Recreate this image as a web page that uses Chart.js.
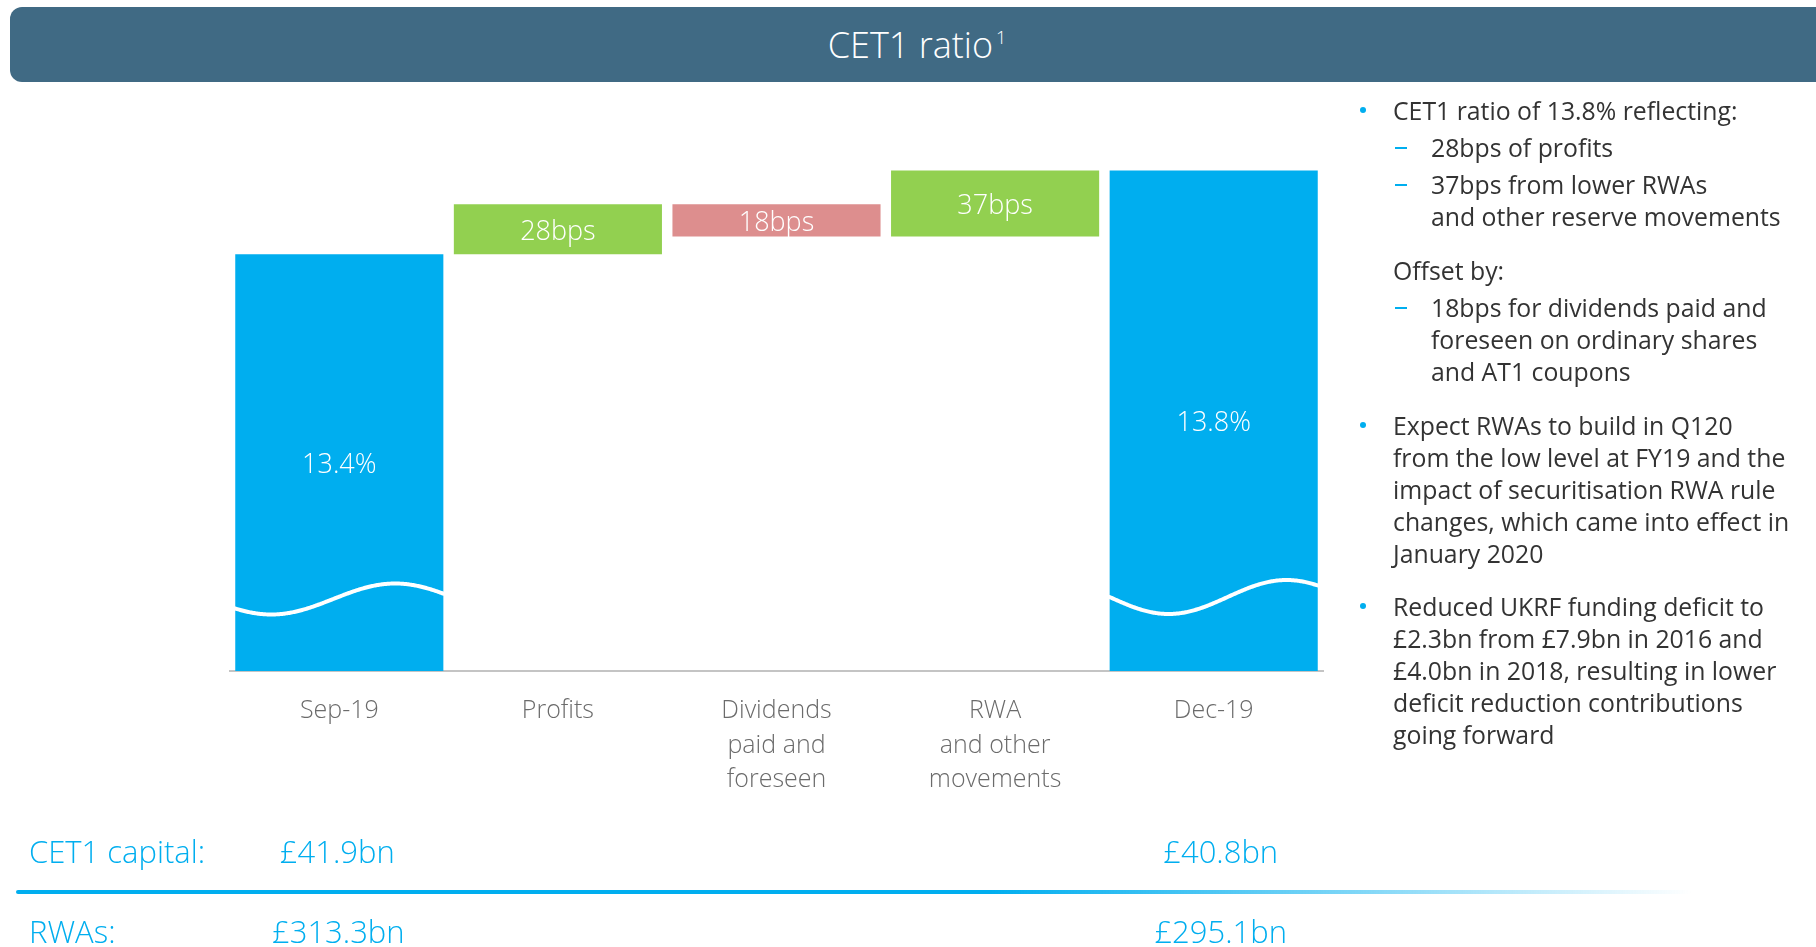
<!DOCTYPE html>
<html>
<head>
<meta charset="utf-8">
<script src="https://cdn.jsdelivr.net/npm/chart.js@4.4.1/dist/chart.umd.min.js"></script>
<style>
  html, body { margin: 0; padding: 0; background: #fff; }
  body { width: 1816px; height: 947px; position: relative; overflow: hidden; font-family: "Open Sans", sans-serif; }
  #myChart { position: absolute; left: 0; top: 0; }
  .header {
    position: absolute; left: 10px; top: 7px; width: 1806px; height: 75px;
    background: #406a84; border-radius: 12px 0 0 12px;
    color: #fff; font-weight: 300; font-size: 36px; line-height: 75px; text-align: center;
  }
  .header span { position: relative; left: 4px; }
  .header sup { font-size: 18px; position: relative; top: -14px; vertical-align: baseline; line-height: 0; margin-left: 3px; }
  .notes { position: absolute; left: 0; top: 0; color: #333; font-size: 24.8px; line-height: 32px; }
  .notes div { position: absolute; white-space: nowrap; }
  .bul::before { content: ""; position: absolute; left: -33px; top: 13px; width: 6px; height: 6px; border-radius: 50%; background: #00aeef; }
  .dash::before { content: ""; position: absolute; left: -36px; top: 16px; width: 12px; height: 2px; background: #00aeef; }
  .rule {
    position: absolute; left: 16px; top: 890px; width: 1676px; height: 4px; border-radius: 2px;
    background: linear-gradient(to right, #00aeef 0%, #00aeef 58%, rgba(0,174,239,0.5) 80%, rgba(0,174,239,0) 100%);
  }
</style>
</head>
<body>
<canvas id="myChart" width="1816" height="947"></canvas>
<div class="header"><span>CET1 ratio<sup>1</sup></span></div>
<div class="rule"></div>
<div class="notes">
  <div class="bul" style="left:1393px; top:94px">CET1 ratio of 13.8% reflecting:</div>
  <div class="dash" style="left:1431px; top:131px">28bps of profits</div>
  <div class="dash" style="left:1431px; top:168px">37bps from lower RWAs<br>and other reserve movements</div>
  <div style="left:1393px; top:254px">Offset by:</div>
  <div class="dash" style="left:1431px; top:291px">18bps for dividends paid and<br>foreseen on ordinary shares<br>and AT1 coupons</div>
  <div class="bul" style="left:1393px; top:409px">Expect RWAs to build in Q120<br>from the low level at FY19 and the<br>impact of securitisation RWA rule<br>changes, which came into effect in<br>January 2020</div>
  <div class="bul" style="left:1393px; top:590px">Reduced UKRF funding deficit to<br>£2.3bn from £7.9bn in 2016 and<br>£4.0bn in 2018, resulting in lower<br>deficit reduction contributions<br>going forward</div>
</div>
<script>
// CET1 ratio waterfall

var categories = [["Sep-19"], ["Profits"], ["Dividends", "paid and", "foreseen"], ["RWA", "and other", "movements"], ["Dec-19"]];
var startRatio = 13.4;          // Sep-19, %
var movesBps = [28, -18, 37];   // profits, dividends, RWA and other
var endRatio = 13.8;            // Dec-19, % (reported)
var barLabels = ["13.4%", "28bps", "18bps", "37bps", "13.8%"];
var capitalLabels = ["£41.9bn", "£40.8bn"];
var rwaLabels = ["£313.3bn", "£295.1bn"];

document.addEventListener("DOMContentLoaded", function () {
  var ctx = document.getElementById("myChart").getContext("2d");

  // build floating bars from the start level and the moves
  var values = [startRatio];
  var level = startRatio;
  movesBps.forEach(function (m) {
    var next = level + m / 100;
    values.push([Math.min(level, next), Math.max(level, next)]);
    level = next;
  });
  values.push(level); // closing bar ends where the moves end

  var colors = ['#00aeef', '#92d050', '#dd8e8e', '#92d050', '#00aeef'];

  // wavy "axis break" lines on the two full bars
  var waves = [
    { index: 0, minAt: 36, half: 124, amp: 15.5, mid: 72 },
    { index: 4, minAt: 59, half: 118, amp: 17, mid: 74 }
  ];

  // bar top/bottom in pixels, clipped to the plot area
  function barSpan(chart, bar) {
    var bottom = chart.chartArea.bottom;
    var top = Math.min(bar.y, bar.base);
    var bot = Math.min(Math.max(bar.y, bar.base), bottom);
    return { top: top, bot: bot };
  }

  var wavePlugin = {
    id: 'waves',
    afterDatasetsDraw: function (chart) {
      var meta = chart.getDatasetMeta(0);
      var c = chart.ctx;
      c.save();
      c.strokeStyle = '#ffffff';
      c.lineWidth = 4;
      c.lineCap = 'round';
      waves.forEach(function (w) {
        var bar = meta.data[w.index];
        var span = barSpan(chart, bar);
        var left = bar.x - bar.width / 2, right = bar.x + bar.width / 2;
        var yc = span.bot - w.mid;
        c.beginPath();
        for (var x = left; x <= right; x += 1) {
          var y = yc + w.amp * Math.cos(Math.PI * (x - left - w.minAt) / w.half);
          if (x === left) c.moveTo(x, y); else c.lineTo(x, y);
        }
        c.stroke();
      });
      c.restore();
    }
  };

  var labelPlugin = {
    id: 'barLabels',
    afterDatasetsDraw: function (chart) {
      var meta = chart.getDatasetMeta(0);
      var c = chart.ctx;
      c.save();
      c.fillStyle = '#ffffff';
      c.font = '300 27px "Open Sans"';
      c.textAlign = 'center';
      c.textBaseline = 'middle';
      meta.data.forEach(function (bar, i) {
        var span = barSpan(chart, bar);
        c.fillText(barLabels[i], bar.x, (span.top + span.bot) / 2 + 3);
      });

      // capital and RWA rows under the chart
      var xs = chart.scales.x;
      var x0 = xs.getPixelForValue(0), x4 = xs.getPixelForValue(4);
      c.fillStyle = '#00aeef';
      c.font = '300 31px "Open Sans"';
      c.textAlign = 'left';
      c.fillText('CET1 capital:', 29, 854);
      c.fillText('RWAs:', 29, 934);
      c.textAlign = 'center';
      c.fillText(capitalLabels[0], x0 - 2, 854);
      c.fillText(capitalLabels[1], x4 + 7, 854);
      c.fillText(rwaLabels[0], x0 - 1, 934);
      c.fillText(rwaLabels[1], x4 + 7, 934);
      c.restore();
    }
  };

  var data = {
    labels: categories,
    datasets: [{
      label: "CET1 ratio",
      data: values,
      backgroundColor: colors,
      borderWidth: 0,
      barPercentage: 0.952,
      categoryPercentage: 1
    }]
  };

  var options = {
    responsive: false,
    animation: false,
    layout: { padding: { left: 230, right: 493, top: 101, bottom: 156 } },
    plugins: { legend: { display: false }, tooltip: { enabled: false } },
    scales: {
      x: {
        grid: { display: false, drawTicks: false, tickLength: 0 },
        border: { display: true, color: '#c4c4c4', width: 2 },
        ticks: {
          color: '#6b6b6b',
          font: { family: 'Open Sans', size: 25, weight: 300, lineHeight: 1.38 },
          padding: 23,
          autoSkip: false,
          maxRotation: 0
        },
        afterFit: function (scale) { scale.height = 120; }
      },
      y: {
        display: false,
        min: 11.06,
        max: 14.26
      }
    }
  };

  var myChart = new Chart(ctx, {
    type: 'bar',
    data: data,
    options: options,
    plugins: [wavePlugin, labelPlugin]
  });
});
</script>
</body>
</html>
